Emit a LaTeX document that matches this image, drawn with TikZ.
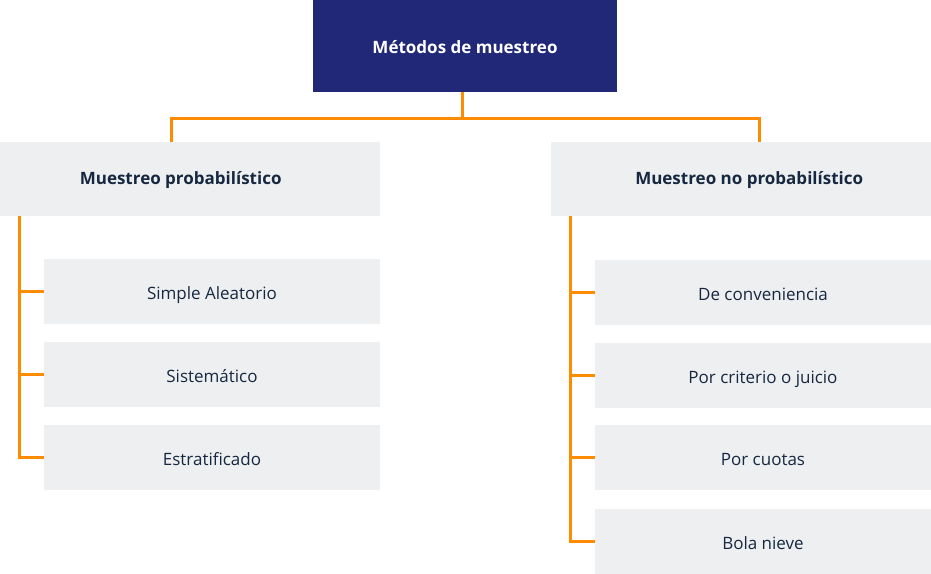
\documentclass[tikz,border=0pt]{standalone}
\usepackage{fontspec}
\setmainfont{Open Sans}
\usetikzlibrary{positioning}
\definecolor{navy}{HTML}{212878}
\definecolor{boxgrey}{HTML}{EEEFF1}
\definecolor{darktext}{HTML}{162840}
\definecolor{branchorange}{HTML}{FF8C00}
\tikzset{font=\fontsize{12.75}{15}\selectfont}
\tikzset{every node/.append style={inner sep=0pt, text=darktext, text depth=0pt}}
\tikzset{topbox/.style={fill=navy, text=white, font=\fontsize{12.75}{15}\selectfont\bfseries, minimum width=228pt, minimum height=69pt, text height=11pt}}
\tikzset{groupbox/.style={fill=boxgrey, minimum width=285pt, minimum height=55.5pt}}
\tikzset{headtext/.style={font=\fontsize{12.75}{15}\selectfont\bfseries, text height=9pt}}
\tikzset{methodbox/.style={fill=boxgrey, minimum width=252pt, minimum height=48.75pt, text height=12pt}}
\tikzset{branch/.style={draw=branchorange, line width=2.25pt}}

\begin{document}
\begin{tikzpicture}[x=0.75pt, y=-0.75pt]
  \useasboundingbox (0,0) rectangle (931,574);

  \node[topbox] (metodos) at (465,46) {Métodos de muestreo};

  \node[groupbox, label={[headtext, xshift=-7pt]center:Muestreo probabilístico}] (prob) at (190,179) {};
  \node[groupbox, label={[headtext, xshift=6.5pt]center:Muestreo no probabilístico}] (noprob) at (740.5,179) {};

  % probabilistico
  \node[methodbox] (simple) at (212,291.5) {Simple Aleatorio};
  \node[methodbox] (sistem) at (212,374.5) {Sistemático};
  \node[methodbox] (estrat) at (212,457.5) {Estratificado};

  % no probabilistico
  \node[methodbox] (conven) at (763,292) {De conveniencia};
  \node[methodbox] (criterio) at (763,375) {Por criterio o juicio};
  \node[methodbox] (cuotas) at (763,457) {Por cuotas};
  \node[methodbox] (bola) at (763,541) {Bola nieve};

  \draw[branch] ([xshift=-2.25pt]metodos.south) -- ++(0,26) -| ([xshift=-14.25pt]prob.north);
  \draw[branch] ([xshift=-2.25pt]metodos.south) -- ++(0,26) -| ([xshift=14.25pt]noprob.north);

  \foreach \m in {simple,sistem,estrat}
    \draw[branch] ([xshift=15pt]prob.south west) |- (\m.west);
  \foreach \m in {conven,criterio,cuotas,bola}
    \draw[branch] ([xshift=15pt]noprob.south west) |- (\m.west);
\end{tikzpicture}
\end{document}
